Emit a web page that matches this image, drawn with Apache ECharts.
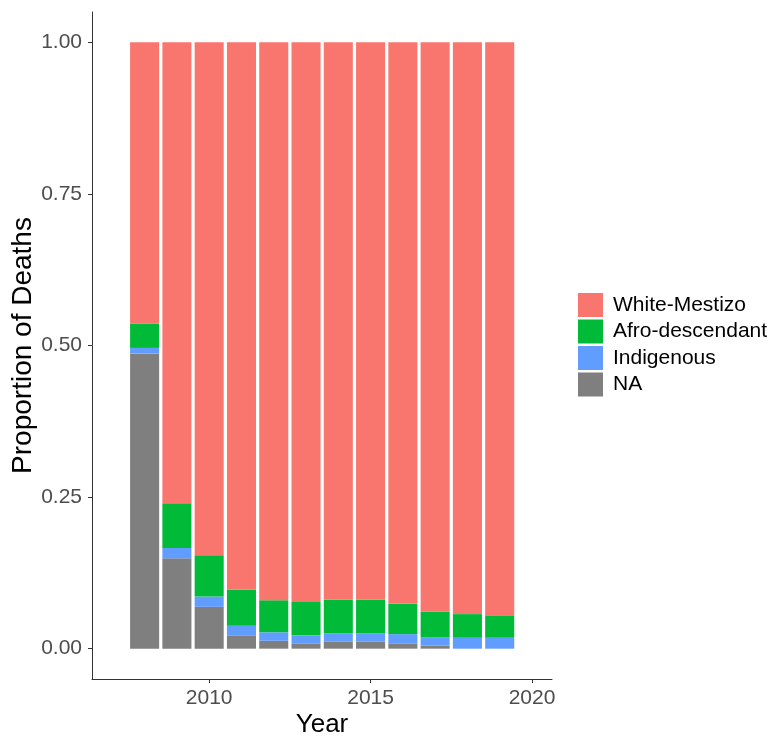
<!DOCTYPE html>
<html>
<head>
<meta charset="utf-8">
<script src="https://cdn.jsdelivr.net/npm/echarts@6/dist/echarts.min.js"></script>
<style>
  html, body { margin: 0; padding: 0; background: #fff; }
  #chart { width: 773px; height: 736px; }
</style>
</head>
<body>
<div id="chart"></div>
<script>
// Share of deaths by ethnic group, per year (stacked to 1)
const years = [2008, 2009, 2010, 2011, 2012, 2013, 2014, 2015, 2016, 2017, 2018, 2019];
const naShare           = [0.487, 0.149, 0.069, 0.022, 0.013, 0.008, 0.012, 0.012, 0.008, 0.005, 0.000, 0.000];
const indigenousShare   = [0.009, 0.017, 0.017, 0.016, 0.014, 0.014, 0.013, 0.013, 0.016, 0.014, 0.018, 0.018];
const afroShare         = [0.040, 0.074, 0.068, 0.059, 0.053, 0.055, 0.056, 0.056, 0.050, 0.042, 0.039, 0.037];
const whiteMestizoShare = [0.464, 0.760, 0.846, 0.903, 0.920, 0.923, 0.919, 0.919, 0.926, 0.939, 0.943, 0.945];

const xTicks = [2010, 2015, 2020];
const yTicks = [0, 0.25, 0.5, 0.75, 1];

// stacked from the bottom up
const groups = [
  { name: 'NA', values: naShare, color: '#7F7F7F' },
  { name: 'Indigenous', values: indigenousShare, color: '#619CFF' },
  { name: 'Afro-descendant', values: afroShare, color: '#00BA38' },
  { name: 'White-Mestizo', values: whiteMestizoShare, color: '#F8766D' }
];

// running totals give each segment its lower and upper bound
const base = years.map(() => 0);
const stackedSeries = groups.map(g => {
  const data = years.map((y, i) => {
    const lo = base[i];
    const hi = lo + g.values[i];
    base[i] = hi;
    return [y, lo, hi];
  });
  return {
    name: g.name,
    type: 'custom',
    itemStyle: { color: g.color },
    encode: { x: 0, y: [1, 2] },
    renderItem: (params, api) => {
      const x = api.value(0);
      const p0 = api.coord([x, api.value(1)]);
      const p1 = api.coord([x, api.value(2)]);
      const w = api.size([0.9, 0])[0];
      const h = p0[1] - p1[1];
      if (h <= 0) return null;
      return {
        type: 'rect',
        shape: { x: p0[0] - w / 2, y: p1[1], width: w, height: h },
        style: { fill: g.color }
      };
    },
    data: data
  };
});

const chart = echarts.init(document.getElementById('chart'), null, { renderer: 'canvas' });
const font = 'Liberation Sans, Arial, sans-serif';

chart.setOption({
  animation: false,
  backgroundColor: '#ffffff',
  textStyle: { fontFamily: font },
  grid: { left: 92, right: 221, top: 12, bottom: 57, containLabel: false, outerBoundsMode: 'none' },
  legend: {
    data: ['White-Mestizo', 'Afro-descendant', 'Indigenous', 'NA'],
    orient: 'vertical',
    left: 573,
    top: 288,
    icon: 'rect',
    itemWidth: 25,
    itemHeight: 24,
    itemGap: 2.5,
    textStyle: { fontSize: 21, color: '#000', fontFamily: font, padding: [0, 0, 0, 5] }
  },
  xAxis: {
    type: 'value',
    min: 2006.37,
    max: 2020.62,
    name: 'Year',
    nameLocation: 'middle',
    nameGap: 33,
    nameMoveOverlap: false,
    nameTextStyle: { fontSize: 26, color: '#000', fontFamily: font },
    axisLine: { show: true, onZero: false, lineStyle: { color: '#333', width: 1 } },
    axisTick: { show: true, length: 4, customValues: xTicks, lineStyle: { color: '#333' } },
    axisLabel: {
      customValues: xTicks,
      fontSize: 21,
      color: '#4D4D4D',
      margin: 9,
      fontFamily: font,
      formatter: v => String(v)
    },
    splitLine: { show: false }
  },
  yAxis: {
    type: 'value',
    min: -0.05,
    max: 1.05,
    name: 'Proportion of Deaths',
    nameLocation: 'middle',
    nameGap: 55,
    nameMoveOverlap: false,
    nameTextStyle: { fontSize: 28, color: '#000', fontFamily: font },
    axisLine: { show: true, onZero: false, lineStyle: { color: '#333', width: 1 } },
    axisTick: { show: true, length: 4, customValues: yTicks, lineStyle: { color: '#333' } },
    axisLabel: {
      customValues: yTicks,
      fontSize: 21,
      color: '#4D4D4D',
      margin: 10,
      fontFamily: font,
      formatter: v => v.toFixed(2)
    },
    splitLine: { show: false }
  },
  series: stackedSeries
});
</script>
</body>
</html>
